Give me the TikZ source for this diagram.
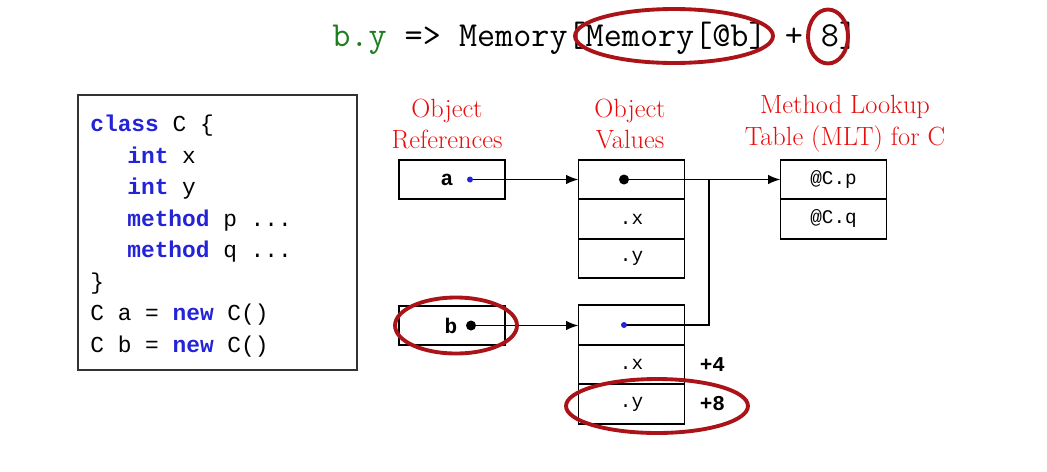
\documentclass[tikz,border=0pt]{standalone}
\usepackage{fontspec}
\newfontfamily\codefont{Liberation Mono}
\usetikzlibrary{arrows.meta,positioning}

\definecolor{kwblue}{RGB}{35,35,215}
\definecolor{labred}{RGB}{235,12,12}
\definecolor{hlred}{RGB}{170,20,25}
\definecolor{exgreen}{RGB}{30,125,30}
\newcommand{\kw}[1]{\textcolor{kwblue}{\textbf{#1}}}
% one monospaced blank, as wide as a character
\newcommand{\csp}{\hspace*{\fontcharwd\font`x}}

\begin{document}
\begin{tikzpicture}[x=0.02cm, y=-0.02cm,
  every node/.style={inner sep=0pt},
  cell/.style={draw, line width=1.1pt, outer sep=0pt, minimum width=2.12cm, minimum height=0.79cm,
    font=\codefont\fontsize{11}{13}\selectfont},
  heading/.style={align=center, text=labred, font=\fontsize{15}{18.2}\selectfont},
  codebox/.style={draw=black!80, line width=0.7pt, minimum width=5.58cm, minimum height=5.5cm},
  codetext/.style={text width=5.1cm, align=left, font=\codefont\fontsize{13}{17.9}\selectfont},
  offset/.style={font=\codefont\bfseries\fontsize{12}{14}\selectfont},
  arr/.style={-{Latex[length=2.5mm,width=1.9mm]}, line width=0.9pt},
  link/.style={line width=0.9pt},
  hl/.style={draw=hlred, line width=2.2pt},
]
\useasboundingbox (0,0) rectangle (1047,471);

% the expression at the top
\node[anchor=base west, font=\ttfamily\fontsize{20}{24}\selectfont] (expr) at (332,46)
  {\textcolor{exgreen}{b.y}\csp=>\csp{}Memory[Memory[@b]\csp+\csp{}8]};

% source code
\node[codebox] (code) at (217.5,232.5) {};
\node[codetext, anchor=north west] (src) at (90,115) {%
  \kw{class}\csp{}C\csp\{\\
  \hspace*{0.74cm}\kw{int}\csp{}x\\
  \hspace*{0.74cm}\kw{int}\csp{}y\\
  \hspace*{0.74cm}\kw{method}\csp{}p\csp...\\
  \hspace*{0.74cm}\kw{method}\csp{}q\csp...\\
  \}\\
  C\csp{}a\csp=\csp\kw{new}\csp{}C()\\
  C\csp{}b\csp=\csp\kw{new}\csp{}C()};

% headings
\node[heading] (hrefs) at (447,124) {Object\\References};
\node[heading] (hvals) at (630,124) {Object\\Values};
\node[heading] (hmlt) at (845,124) {Method Lookup\\Table (MLT) for C};

% object references
\node[cell] (ra) at (452,179.5) {};
\node[cell] (rb) at (452,325.5) {};
\node[offset] (na) at ([xshift=-0.1cm]ra.center) {a};
\node[offset] (nb) at ([xshift=-0.02cm]rb.center) {b};
\coordinate (da) at ([xshift=0.36cm]ra.center);
\coordinate (db) at ([xshift=0.38cm]rb.center);

% object values
\node[cell] (va1) at (631.5,179.5) {};
\node[cell, below=0pt of va1] (va2) {.x};
\node[cell, below=0pt of va2] (va3) {.y};
\node[cell] (vb1) at (631.5,325) {};
\node[cell, below=0pt of vb1] (vb2) {.x};
\node[cell, below=0pt of vb2] (vb3) {.y};
\coordinate (dva) at ([xshift=-0.15cm]va1.center);
\coordinate (dvb) at ([xshift=-0.15cm]vb1.center);
\coordinate (jn) at ([xshift=1.7cm]dva);

% offsets
\node[offset, right=0.3cm of vb2] (off4) {+4};
\node[offset, right=0.3cm of vb3] (off8) {+8};

% method lookup table
\node[cell] (m1) at (833.5,179.5) {@C.p};
\node[cell, below=0pt of m1] (m2) {@C.q};

% pointers
\draw[arr] (da) -- (da -| va1.west);
\draw[arr] (db) -- (db -| vb1.west);
\draw[arr] (dva) -- (dva -| m1.west);
\draw[link] (dvb) -| (jn);

\fill[kwblue] (da) circle (0.06cm);
\fill (db) circle (0.1cm);
\fill (dva) circle (0.1cm);
\fill[kwblue] (dvb) circle (0.06cm);

% highlights
\draw[hl] (674,36) ellipse [x radius=1.98cm, y radius=0.54cm];
\draw[hl] (828,36.5) ellipse [x radius=0.4cm, y radius=0.54cm];
\draw[hl] ([xshift=0.08cm]rb.center) ellipse [x radius=1.22cm, y radius=0.56cm];
\draw[hl] (657,406) ellipse [x radius=1.82cm, y radius=0.54cm];
\end{tikzpicture}
\end{document}
